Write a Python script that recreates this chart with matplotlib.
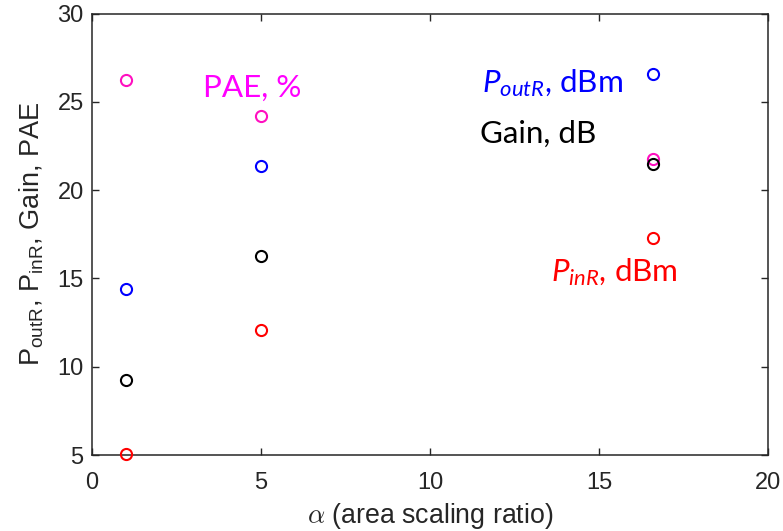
import matplotlib
matplotlib.use("Agg")
import matplotlib.pyplot as plt

# Area scaling ratio for each design point
alpha = [1, 5, 16.6]

# Measured quantities
p_out = [14.4, 21.36, 26.57]   # P_outR, dBm
p_in = [5.06, 12.08, 17.31]    # P_inR, dBm
gain = [9.25, 16.27, 21.48]    # Gain, dB
pae = [26.23, 24.2, 21.74]     # PAE, %

xticks = [0, 5, 10, 15, 20]
yticks = [5, 10, 15, 20, 25, 30]

plt.rcParams["mathtext.fontset"] = "custom"
plt.rcParams["mathtext.rm"] = "Liberation Sans"
plt.rcParams["mathtext.it"] = "Lato:italic"
plt.rcParams["font.family"] = ["Liberation Sans", "DejaVu Sans"]

ink = "#262626"
fig = plt.figure(figsize=(7.83, 5.31), dpi=100)
ax = fig.add_axes([92 / 783, 1 - 455 / 531, (768 - 92) / 783, (455 - 13.5) / 531])

mk = dict(linestyle="none", marker="o", markersize=8, markeredgewidth=1.5,
          markerfacecolor="none", clip_on=False, zorder=3)
ax.plot(alpha, pae, markeredgecolor="#FF10C0", **mk)
ax.plot(alpha, p_out, markeredgecolor="#0000FF", **mk)
ax.plot(alpha, gain, markeredgecolor="#000000", **mk)
ax.plot(alpha, p_in, markeredgecolor="#FF0000", **mk)

ax.set_xlim(0, 20)
ax.set_ylim(5, 30)
ax.set_xticks(xticks)
ax.set_yticks(yticks)
ax.tick_params(direction="in", length=5, width=1, colors=ink, labelsize=17,
               top=True, right=True, pad=6)
ax.tick_params(axis="x", pad=12)
for s in ax.spines.values():
    s.set_color(ink)
    s.set_linewidth(1.1)

ax.set_xlabel(r"$\alpha$ (area scaling ratio)", fontsize=19.3, color=ink,
              math_fontfamily="cm", labelpad=5)
ax.set_ylabel(r"P$_{\mathrm{outR}}$, P$_{\mathrm{inR}}$, Gain, PAE", fontsize=19.5,
              color=ink, labelpad=8)

tf = dict(fontsize=22.6, family="Lato", ha="left", va="center")
ax.text(3.28, 25.78, "PAE, %", color="#FF00FF", **tf)
ax.text(11.54, 26.07, r"$P_{outR}$, dBm", color="#0000FF", **tf)
ax.text(11.48, 23.18, "Gain, dB", color="#000000", **tf)
ax.text(13.58, 15.36, r"$P_{inR}$, dBm", color="#FF0000", **tf)

fig.savefig("out.png", dpi=100)
